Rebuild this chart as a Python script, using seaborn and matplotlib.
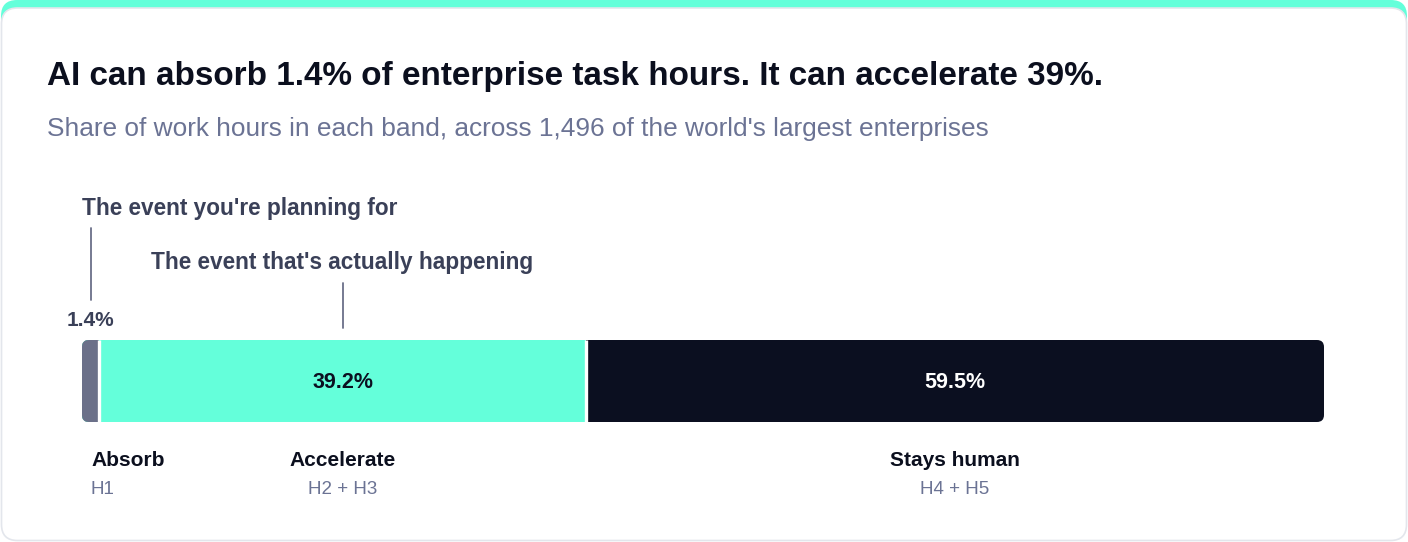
import numpy as np
import pandas as pd
import matplotlib
matplotlib.use("Agg")
import matplotlib.pyplot as plt
import matplotlib.transforms as mtransforms
from matplotlib.patches import FancyBboxPatch
import seaborn as sns

# --- data ---
bands = ["Absorb", "Accelerate", "Stays human"]
horizons = ["H1", "H2 + H3", "H4 + H5"]
shares = [1.4, 39.2, 59.5]
callouts = ["The event you're planning for", "The event that's actually happening"]

title = "AI can absorb 1.4% of enterprise task hours. It can accelerate 39%."
subtitle = "Share of work hours in each band, across 1,496 of the world's largest enterprises"

seg_colors = ["#6b7089", "#64ffda", "#0b0f20"]
value_colors = ["#3a4058", "#0b0f20", "#ffffff"]
TEAL = "#64ffda"
INK = "#0b0f1e"
SLATE = "#3a4058"
MUTED = "#6b7394"

W, H = 1408, 542
sns.set_theme(style="white")
plt.rcParams["font.family"] = ["Liberation Sans", "DejaVu Sans"]

fig = plt.figure(figsize=(W / 100, H / 100), dpi=100)
fig.patch.set_facecolor("white")
px = mtransforms.Affine2D().scale(1 / 100) + fig.dpi_scale_trans  # pixel units, origin bottom-left


def fy(y):
    return 1 - y / H


# card with teal top stripe
fig.add_artist(FancyBboxPatch((1, H - 40), 1406, 40, boxstyle="round,pad=0,rounding_size=16",
                              transform=px, facecolor=TEAL, edgecolor="none", zorder=0))
fig.add_artist(FancyBboxPatch((1.5, 1.5), 1405, H - 9.5, boxstyle="round,pad=0,rounding_size=16",
                              transform=px, facecolor="white", edgecolor="#e3e6ec", linewidth=1.2, zorder=0))

fig.text(47 / W, fy(77), title, fontsize=23.95, fontweight="bold", color=INK, va="center")
fig.text(47 / W, fy(129), subtitle, fontsize=18.9, color=MUTED, va="center")

# --- stacked bar (draw cumulative totals, largest first) ---
ax = fig.add_axes([82 / W, fy(422), 1242 / W, 82 / H])
ends = np.cumsum(shares)
starts = ends - np.array(shares)
df = pd.DataFrame({"band": bands, "end": ends, "row": "all"})
for i in range(len(bands) - 1, -1, -1):
    sns.barplot(data=df.iloc[[i]], x="end", y="row", orient="h", color=seg_colors[i],
                width=1.0, linewidth=0, saturation=1, ax=ax)
ax.set_xlim(0, ends[-1])
ax.set_ylim(0.5, -0.5)
ax.axis("off")
# white gaps between segments
ax.vlines(ends[:-1], -0.5, 0.5, color="white", lw=2.4, zorder=5)

# rounded ends on the whole bar
(x0, y0), (x1, y1) = ax.transData.transform([(0, 0.5), (ends[-1], -0.5)])
clip = FancyBboxPatch((x0, y0), x1 - x0, y1 - y0, boxstyle="round,pad=0,rounding_size=7",
                      transform=mtransforms.IdentityTransform(), facecolor="none", edgecolor="none")
for p in ax.patches:
    p.set_clip_on(True)
    p.set_clip_path(clip)

bx = mtransforms.blended_transform_factory(ax.transData, fig.transFigure)
nudge = mtransforms.ScaledTranslation(9 / 100, 0, fig.dpi_scale_trans)
down = mtransforms.ScaledTranslation(0, -2 / 100, fig.dpi_scale_trans)

for i, (b, h, s) in enumerate(zip(bands, horizons, shares)):
    mid = starts[i] + s / 2
    if s < 5:
        ax.text(mid, fy(321), f"{s:.1f}%", transform=bx, ha="center", va="center",
                fontsize=15, fontweight="bold", color=value_colors[i])
        ax.text(starts[i], fy(461), b, transform=bx + nudge, ha="left", va="center",
                fontsize=15, fontweight="bold", color=INK)
        ax.text(starts[i], fy(490), h, transform=bx + nudge, ha="left", va="center",
                fontsize=13.5, color=MUTED)
    else:
        ax.text(mid, 0, f"{s:.1f}%", transform=ax.transData + down, ha="center", va="center",
                fontsize=15.5, fontweight="bold", color=value_colors[i])
        ax.text(mid, fy(461), b, transform=bx, ha="center", va="center",
                fontsize=15, fontweight="bold", color=INK)
        ax.text(mid, fy(490), h, transform=bx, ha="center", va="center",
                fontsize=13.5, color=MUTED)

# callouts
mid0 = starts[0] + shares[0] / 2
ax.plot([mid0, mid0], [fy(228), fy(300)], transform=bx, color="#6b7089", lw=1.3, clip_on=False)
ax.text(starts[0], fy(208), callouts[0], transform=bx, ha="left", va="center",
        fontsize=16.25, fontweight="bold", color=SLATE)
mid1 = starts[1] + shares[1] / 2
ax.plot([mid1, mid1], [fy(283), fy(328)], transform=bx, color="#6b7089", lw=1.3, clip_on=False)
ax.text(mid1, fy(262), callouts[1], transform=bx, ha="center", va="center",
        fontsize=16.25, fontweight="bold", color=SLATE)

fig.savefig("out.png", dpi=100, facecolor="white")
